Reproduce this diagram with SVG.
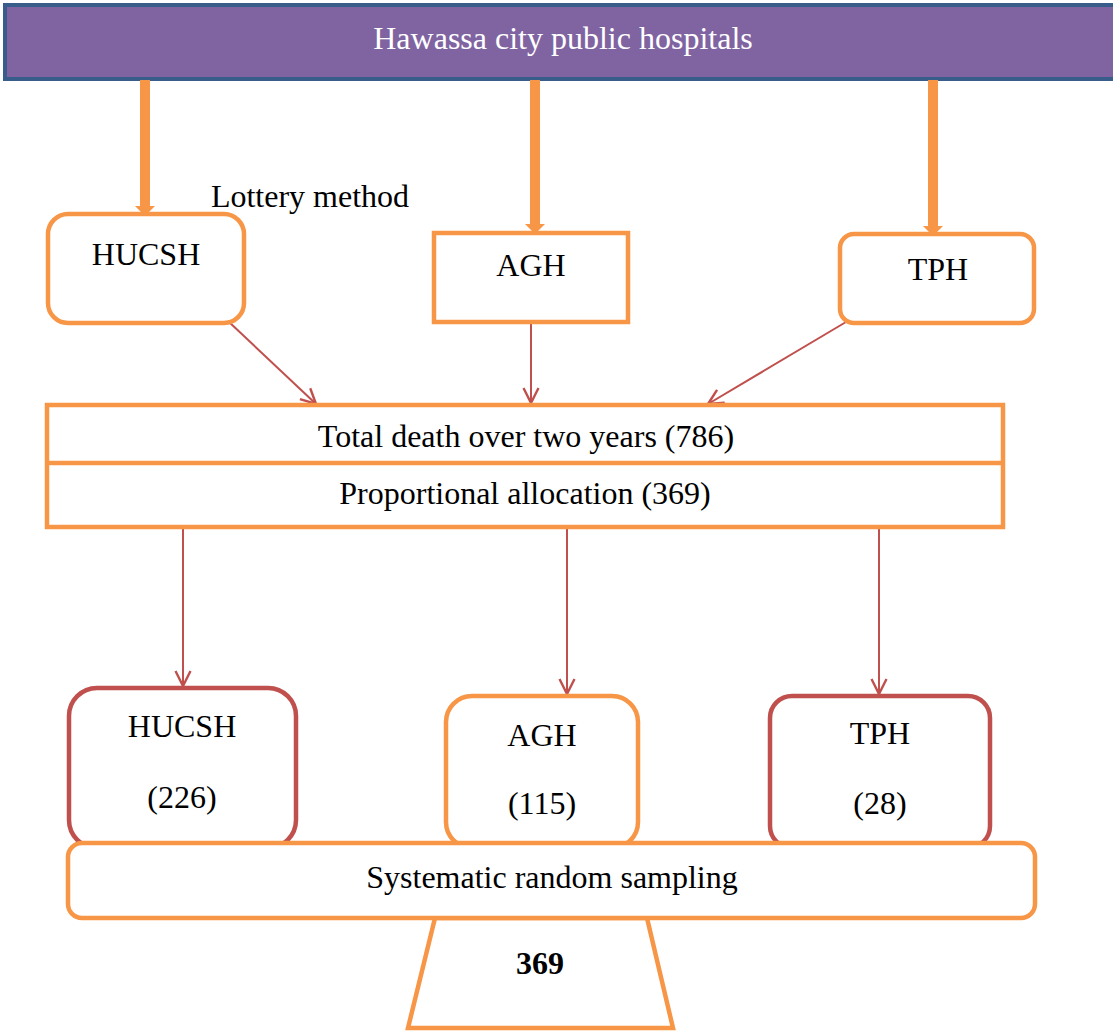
<svg xmlns="http://www.w3.org/2000/svg" width="1113" height="1032" viewBox="0 0 1113 1032">
<style>
text{font-family:"Liberation Serif","Times New Roman",serif;font-size:32px;fill:#000;text-anchor:middle}
.or{fill:#fff;stroke:#F79646;stroke-width:4.5}
.rd{fill:#fff;stroke:#C0504D;stroke-width:4.5}
.thick{stroke:#F79646;stroke-width:10;fill:none}
.thin{stroke:#C0504D;stroke-width:2;fill:none}
</style>
<defs>
<marker id="open" viewBox="0 0 12 12" refX="11" refY="6" markerUnits="userSpaceOnUse" markerWidth="18" markerHeight="18" orient="auto">
<path d="M1,1 L11,6 L1,11" fill="none" stroke="#C0504D" stroke-width="1.6"/>
</marker>
</defs>
<g id="top">
<rect x="5" y="5" width="1115" height="74" fill="#8064A2" stroke="#385D8A" stroke-width="4"/>
<text x="563" y="49" style="fill:#fff">Hawassa city public hospitals</text>
</g>
<g id="connectors">
<line class="thick" x1="145" y1="80" x2="145" y2="206"/>
<polygon points="135,206 155,206 145,216" fill="#F79646"/>
<line class="thick" x1="535" y1="80" x2="535" y2="224"/>
<polygon points="525,224 545,224 535,234" fill="#F79646"/>
<line class="thick" x1="933" y1="80" x2="933" y2="226"/>
<polygon points="923,226 943,226 933,236" fill="#F79646"/>
<line class="thin" x1="229" y1="322" x2="316" y2="404" marker-end="url(#open)"/>
<line class="thin" x1="531" y1="323" x2="531" y2="403" marker-end="url(#open)"/>
<line class="thin" x1="846" y1="322" x2="708" y2="404" marker-end="url(#open)"/>
<line class="thin" x1="183" y1="528" x2="183" y2="686" marker-end="url(#open)"/>
<line class="thin" x1="567" y1="528" x2="567" y2="694" marker-end="url(#open)"/>
<line class="thin" x1="879" y1="528" x2="879" y2="694" marker-end="url(#open)"/>
</g>
<text x="310" y="207">Lottery method</text>
<g id="hucsh1">
<rect class="or" x="48" y="214" width="196" height="109" rx="20"/>
<text x="146" y="265">HUCSH</text>
</g>
<g id="agh1">
<rect class="or" x="434" y="233" width="194" height="89"/>
<text x="531" y="276">AGH</text>
</g>
<g id="tph1">
<rect class="or" x="840" y="234" width="194" height="89" rx="14"/>
<text x="938" y="280">TPH</text>
</g>
<g id="total">
<rect class="or" x="47" y="405" width="956" height="122"/>
<line x1="47" y1="463" x2="1003" y2="463" stroke="#F79646" stroke-width="4.5"/>
<text x="526" y="447">Total death over two years (786)</text>
<text x="525" y="504">Proportional allocation (369)</text>
</g>
<g id="hucsh2">
<rect class="rd" x="69" y="688" width="227" height="160" rx="28"/>
<text x="182" y="737">HUCSH</text>
<text x="182" y="808">(226)</text>
</g>
<g id="agh2">
<rect class="or" x="446" y="696" width="192" height="152" rx="26"/>
<text x="542" y="746">AGH</text>
<text x="542" y="814">(115)</text>
</g>
<g id="tph2">
<rect class="rd" x="770" y="696" width="220" height="152" rx="22"/>
<text x="880" y="744">TPH</text>
<text x="880" y="814">(28)</text>
</g>
<g id="n369">
<polygon class="or" points="435,918 647,918 673,1028 408,1028"/>
<text x="540" y="974" style="font-weight:bold">369</text>
</g>
<g id="systematic">
<rect class="or" x="68" y="843" width="967" height="75" rx="14"/>
<text x="552" y="888">Systematic random sampling</text>
</g>
</svg>
